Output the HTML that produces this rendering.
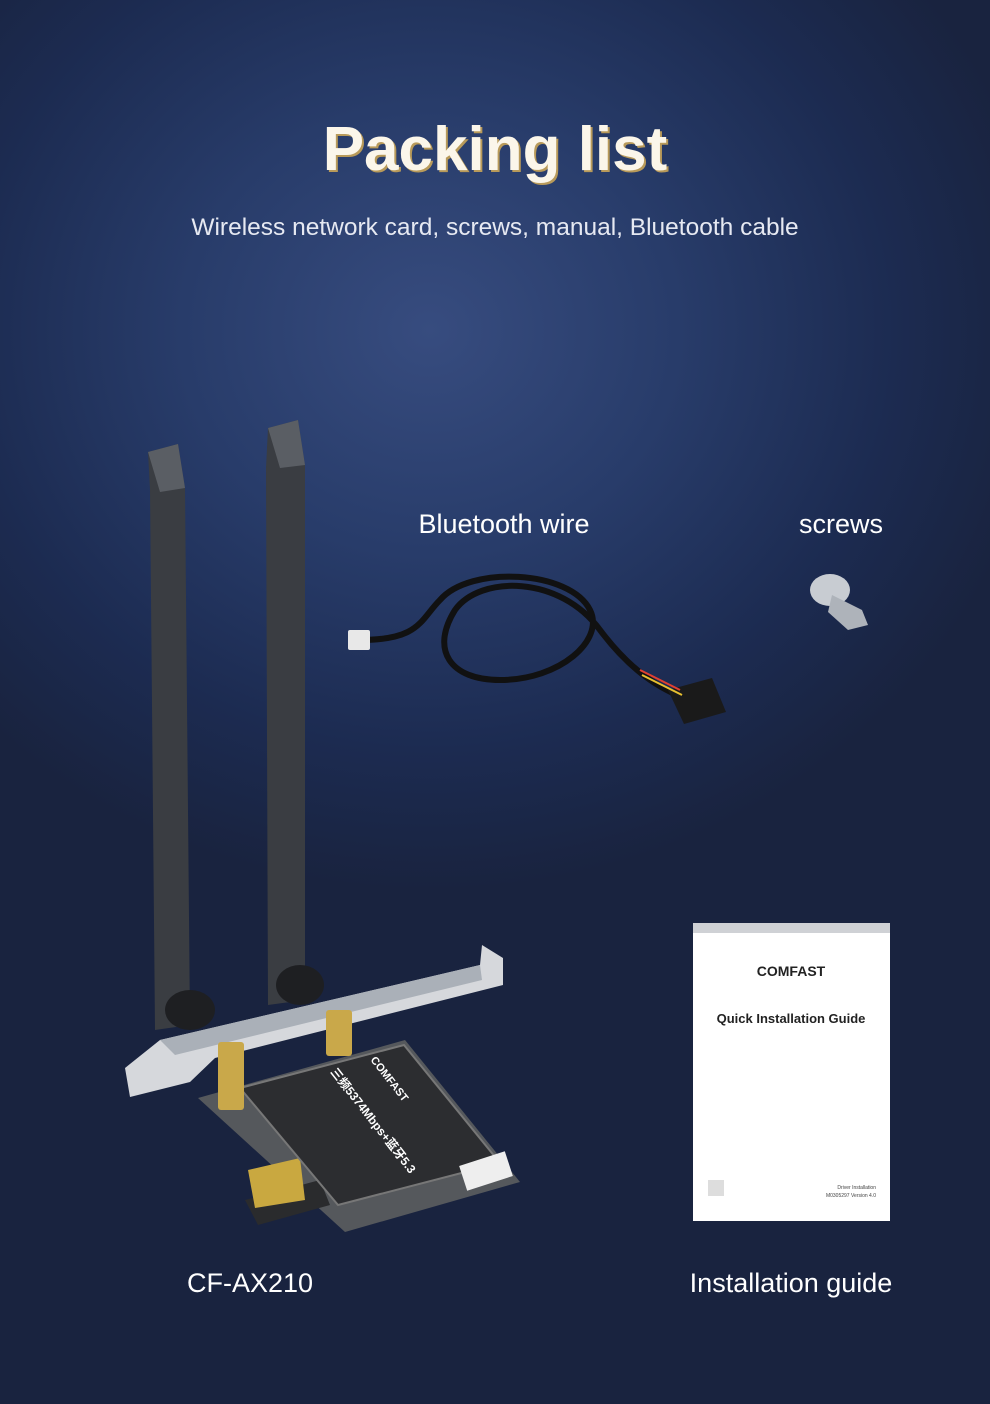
<!DOCTYPE html>
<html><head><meta charset="utf-8"><style>
html,body{margin:0;padding:0}
body{width:990px;height:1404px;overflow:hidden;position:relative;font-family:"Liberation Sans",sans-serif;
background:radial-gradient(ellipse 620px 560px at 430px 330px,#374c7f 0%,#283c6a 40%,#1c2b51 75%,#19233f 100%);}
.t{position:absolute;color:#fff;text-align:center;white-space:nowrap;font-weight:300}
</style></head><body>
<div class="t" style="left:0;width:990px;top:114px;font-size:62px;font-weight:bold;color:#fbf6ea;text-shadow:2px 2px 0 #b89a5a">Packing list</div>
<div class="t" style="left:0;width:990px;top:214px;font-size:24.5px;color:#e6e9f2">Wireless network card, screws, manual, Bluetooth cable</div>
<div class="t" style="left:404px;width:200px;top:509px;font-size:27px">Bluetooth wire</div>
<div class="t" style="left:760px;width:162px;top:509px;font-size:27px">screws</div>
<div class="t" style="left:150px;width:200px;top:1268px;font-size:27px">CF-AX210</div>
<div class="t" style="left:660px;width:262px;top:1268px;font-size:27px">Installation guide</div>

<svg width="990" height="1404" style="position:absolute;left:0;top:0">
<polygon points="148,452 178,444 185,488 190,1025 155,1030 150,490" fill="#3a3d42"/>
<polygon points="148,452 178,444 185,488 160,492" fill="#5a5e64"/>
<polygon points="268,428 298,420 305,465 305,1000 268,1005 266,468" fill="#3a3d42"/>
<polygon points="268,428 298,420 305,465 280,468" fill="#5a5e64"/>
<ellipse cx="190" cy="1010" rx="25" ry="20" fill="#1e1f22"/>
<ellipse cx="300" cy="985" rx="24" ry="20" fill="#1e1f22"/>
<polygon points="125,1068 160,1040 480,965 482,945 503,958 503,985 215,1058 190,1082 130,1097" fill="#d6d8dc"/>
<polygon points="160,1040 480,965 482,980 175,1055" fill="#aab0b8"/>
<polygon points="198,1098 405,1040 520,1182 345,1232" fill="#55585c"/>
<polygon points="245,1200 320,1180 330,1205 258,1225" fill="#2a2b2d"/>
<polygon points="248,1170 300,1158 305,1200 255,1208" fill="#c9a840"/>
<polygon points="240,1088 404,1045 500,1163 338,1205" fill="#2c2d30" stroke="#777" stroke-width="2"/>
<rect x="462" y="1158" width="48" height="26" fill="#eee" transform="rotate(-18 486 1171)"/>
<rect x="218" y="1042" width="26" height="68" fill="#c9a84a" rx="3"/>
<rect x="326" y="1010" width="26" height="46" fill="#c9a84a" rx="3"/>
<text x="370" y="1060" fill="#fff" font-size="11" font-weight="bold" transform="rotate(52 370 1060)" font-family="Liberation Sans">COMFAST</text>
<text x="330" y="1072" fill="#fff" font-size="12" font-weight="bold" transform="rotate(52 330 1072)" font-family="Liberation Sans,Noto Sans CJK SC,sans-serif">三频5374Mbps+蓝牙5.3</text>
<path d="M360,640 C420,640 420,620 440,600 C470,565 570,570 590,610 C605,640 560,680 500,680 C450,680 430,650 455,610 C480,575 560,575 600,630 C630,670 660,690 690,700" fill="none" stroke="#111" stroke-width="6"/>
<rect x="348" y="630" width="22" height="20" fill="#e8e8e8" rx="2"/>
<polygon points="668,690 712,678 726,712 684,724" fill="#1a1a1a"/>
<path d="M640,670 L680,690" stroke="#e04030" stroke-width="2"/>
<path d="M642,675 L682,695" stroke="#e8c030" stroke-width="2"/>
<ellipse cx="830" cy="590" rx="20" ry="16" fill="#c8ccd2"/>
<polygon points="832,595 862,610 868,625 848,630 828,612" fill="#aeb3ba"/>
<rect x="693" y="923" width="197" height="298" fill="#fff"/>
<rect x="693" y="923" width="197" height="10" fill="#cfd1d5"/>
<text x="791" y="976" text-anchor="middle" font-size="14" font-weight="bold" fill="#222" font-family="Liberation Sans">COMFAST</text>
<text x="791" y="1023" text-anchor="middle" font-size="13" font-weight="bold" fill="#222" font-family="Liberation Sans">Quick Installation Guide</text>
<text x="876" y="1189" text-anchor="end" font-size="5" fill="#444" font-family="Liberation Sans">Driver Installation</text>
<text x="876" y="1197" text-anchor="end" font-size="5" fill="#444" font-family="Liberation Sans">M0305297 Version 4.0</text>
<rect x="708" y="1180" width="16" height="16" fill="#ddd"/>
</svg>
</body></html>
